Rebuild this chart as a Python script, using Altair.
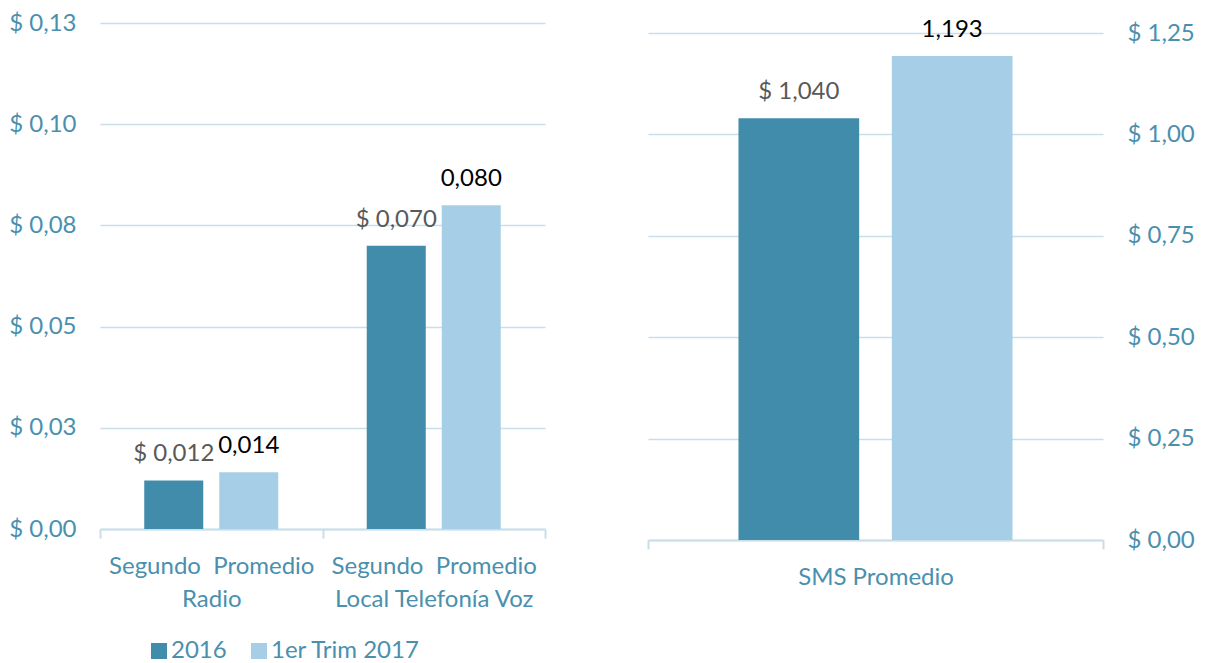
import altair as alt
import pandas as pd

series = ["2016", "1er Trim 2017"]
left_categories = ["Segundo\u00a0 Promedio|Radio", "Segundo\u00a0 Promedio|Local Telefonía Voz"]
left_2016 = [0.012, 0.070]
left_2017 = [0.014, 0.080]
right_categories = ["SMS Promedio"]
right_2016 = [1.040]
right_2017 = [1.193]
left_ticks = [0, 0.025, 0.05, 0.075, 0.1, 0.125]
right_ticks = [0, 0.25, 0.5, 0.75, 1.0, 1.25]

DARK = "#428CAB"
LIGHT = "#A6CFE7"
AXIS_TXT = "#4A90AE"
GRID = "#C8DEE9"
FONT = "Lato"
FS = 24


def make_df(cats, v16, v17):
    rows = []
    for c, a, b in zip(cats, v16, v17):
        rows.append({"category": c, "series": series[0], "value": a})
        rows.append({"category": c, "series": series[1], "value": b})
    return pd.DataFrame(rows)


left_df = make_df(left_categories, left_2016, left_2017)
right_df = make_df(right_categories, right_2016, right_2017)

color = alt.Color(
    "series:N", sort=series,
    scale=alt.Scale(domain=series, range=[DARK, LIGHT]),
    legend=alt.Legend(
        title=None, orient="none", direction="horizontal", legendX=47, legendY=616,
        symbolType="square", symbolSize=256, symbolStrokeWidth=0,
        labelFont=FONT, labelFontSize=FS, labelColor=AXIS_TXT,
        labelOffset=0, columnPadding=20,
    ),
)

label_calc = "(datum.series == '2016' ? '$ ' : '') + replace(format(datum.value, '.3f'), '.', ',')"
txt_color = alt.condition("datum.series == '2016'", alt.value("#595959"), alt.value("#000000"))


def panel(df, cats, ymax, ticks, orient, w, h, lpad):
    x = alt.X(
        "category:N", sort=cats, title=None,
        scale=alt.Scale(paddingInner=0, paddingOuter=0),
        axis=alt.Axis(
            labelExpr="split(datum.label, '|')", labelAngle=0, tickBand="extent",
            domainColor=GRID, domainWidth=2, tickColor=GRID, tickWidth=2, tickSize=9,
            labelColor=AXIS_TXT, labelFont=FONT, labelFontSize=FS, labelLineHeight=33,
            labelPadding=16, labelLimit=500,
        ),
    )
    xo = alt.XOffset("series:N", sort=series, scale=alt.Scale(paddingInner=0.213, paddingOuter=0.59))
    y = alt.Y(
        "value:Q", title=None,
        scale=alt.Scale(domain=[0, ymax], nice=False, zero=True),
        axis=alt.Axis(
            orient=orient, values=ticks, grid=True, gridColor=GRID, gridWidth=1.5,
            domain=False, ticks=False, labelPadding=lpad,
            labelExpr="'$ ' + replace(format(datum.value + 1e-9, '.2f'), '.', ',')",
            labelColor=AXIS_TXT, labelFont=FONT, labelFontSize=FS,
        ),
    )
    base = alt.Chart(df).transform_calculate(label=label_calc)
    bars = base.mark_bar().encode(x=x, xOffset=xo, y=y, color=color)
    text = base.mark_text(dy=-26, baseline="middle", font=FONT, fontSize=FS).encode(
        x=x, xOffset=xo, y=y, text="label:N", color=txt_color
    )
    return (bars + text).properties(width=w, height=h)


left = panel(left_df, left_categories, 0.125, left_ticks, "left", 445, 506, 24)
right = panel(right_df, right_categories, 1.25 * 517 / 507, right_ticks, "right", 455, 517, 24)

chart = alt.hconcat(left, right, spacing=101).resolve_scale(
    x="independent", xOffset="independent", y="independent"
).properties(
    padding={"left": 0, "top": 3, "right": 0, "bottom": 0}
).configure_view(stroke=None)

chart.save("out.html", embed_options={"renderer": "svg", "actions": False})
